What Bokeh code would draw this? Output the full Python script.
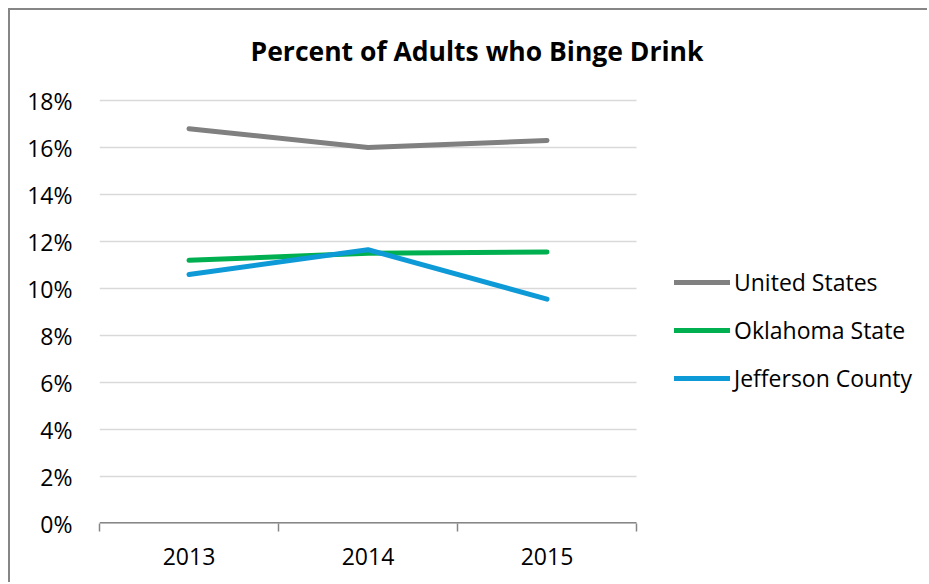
from bokeh.plotting import figure
from bokeh.models import (ColumnDataSource, FixedTicker, PrintfTickFormatter,
                          Legend, LegendItem, Label, Range1d)
from bokeh.embed import file_html
from bokeh.resources import INLINE

# ---- data ----
years = [2013, 2014, 2015]
year_labels = ["2013", "2014", "2015"]
united_states = [16.8, 16.0, 16.3]
oklahoma_state = [11.2, 11.5, 11.55]
jefferson_county = [10.6, 11.65, 9.55]
series_names = ["United States", "Oklahoma State", "Jefferson County"]
series_colors = ["#808080", "#00B050", "#0E9AD7"]
y_ticks = [0, 2, 4, 6, 8, 10, 12, 14, 16, 18]
title_text = "Percent of Adults who Binge Drink"

FONT = "Open Sans"

# category boundaries
bounds = [years[0] - 0.5] + [y + 0.5 for y in years]
# plot area spans 537 px for the 3 categories; frame extends further right / up
px_per_x = 537 / 3.0
px_per_y = 423 / 18.0
x_end = bounds[-1] + 293 / px_per_x
y_end = 18 + 90 / px_per_y

p = figure(width=919, height=574, output_backend="svg", toolbar_location=None,
           x_range=Range1d(bounds[0], x_end), y_range=Range1d(0, y_end),
           min_border_left=89, min_border_right=0, min_border_top=0,
           min_border_bottom=61)
p.styles = {"margin-left": "8px", "margin-top": "8px",
            "border-top": "2px solid #868686", "border-left": "2px solid #868686"}
p.outline_line_color = None
p.background_fill_color = "white"
p.border_fill_color = "white"

# grid (drawn only across the plot area)
p.xgrid.grid_line_color = None
p.ygrid.grid_line_color = None
grid_src = ColumnDataSource(dict(x0=[bounds[0]] * len(y_ticks), x1=[bounds[-1]] * len(y_ticks), y=y_ticks))
p.segment(x0="x0", y0="y", x1="x1", y1="y", source=grid_src, line_color="#D9D9D9", line_width=1.5)
# category axis line
p.segment(x0=[bounds[0]], y0=[0], x1=[bounds[-1]], y1=[0], line_color="#868686", line_width=3)

# y axis
p.yaxis.ticker = FixedTicker(ticks=y_ticks)
p.yaxis.formatter = PrintfTickFormatter(format="%d%%")
p.yaxis.axis_line_color = None
p.yaxis.major_tick_line_color = None
p.yaxis.minor_tick_line_color = None
p.yaxis.major_label_text_font = FONT
p.yaxis.major_label_text_font_size = "23px"
p.yaxis.major_label_text_color = "#000000"
p.yaxis.major_label_standoff = 21

# x axis
p.xaxis.ticker = FixedTicker(ticks=years, minor_ticks=bounds)
p.xaxis.major_label_overrides = {y: l for y, l in zip(years, year_labels)}
p.xaxis.axis_line_color = None
p.xaxis.major_tick_line_color = None
p.xaxis.major_tick_out = 0
p.xaxis.major_tick_in = 0
p.xaxis.minor_tick_line_color = "#868686"
p.xaxis.minor_tick_line_width = 1.5
p.xaxis.minor_tick_out = 8
p.xaxis.minor_tick_in = 0
p.xaxis.major_label_text_font = FONT
p.xaxis.major_label_text_font_size = "23px"
p.xaxis.major_label_text_color = "#000000"
p.xaxis.major_label_standoff = 16

items = []
for name, vals, col in zip(series_names, [united_states, oklahoma_state, jefferson_county], series_colors):
    src = ColumnDataSource(dict(x=years, y=vals))
    r = p.line("x", "y", source=src, line_color=col, line_width=5, line_cap="round", line_join="round")
    items.append(LegendItem(label=name, renderers=[r]))

legend = Legend(items=items, location=(575, 129), orientation="vertical",
                label_text_font=FONT, label_text_font_size="23px", label_text_color="#000000",
                glyph_width=56, glyph_height=30, label_height=30, label_standoff=4,
                spacing=16, padding=0, margin=0,
                border_line_color=None, background_fill_alpha=0)
p.add_layout(legend, "center")

title = Label(x=377.5, y=473, x_units="screen", y_units="screen", text=title_text,
              text_font=FONT, text_font_style="bold", text_font_size="26.5px",
              text_align="center", text_baseline="middle", text_color="#000000")
p.add_layout(title)

open("out.html", "w").write(file_html(p, INLINE))
